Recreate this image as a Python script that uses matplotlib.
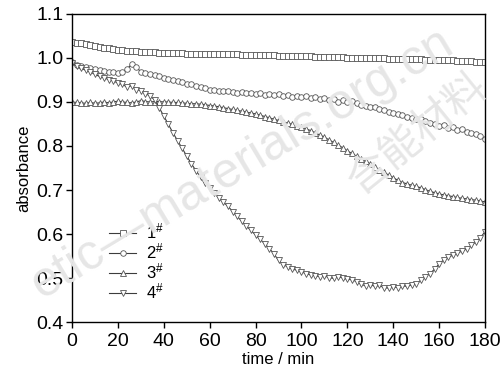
import numpy as np
import matplotlib
matplotlib.use('Agg')
import matplotlib.pyplot as plt

plt.rcParams['font.family'] = ['Liberation Sans', 'DejaVu Sans']
plt.rcParams['mathtext.fontset'] = 'custom'
plt.rcParams['mathtext.rm'] = 'Liberation Sans'
plt.rcParams['mathtext.it'] = 'Liberation Sans'

# time axis, one reading every 2 min
t = np.arange(0, 181, 2)

# sample 1# (squares)
s1 = [1.037, 1.035, 1.033, 1.031, 1.029, 1.027, 1.025, 1.023, 1.022, 1.020,
      1.019, 1.018, 1.017, 1.016, 1.015, 1.014, 1.014, 1.013, 1.013, 1.012,
      1.012, 1.012, 1.011, 1.011, 1.011, 1.010, 1.010, 1.010, 1.009, 1.009,
      1.009, 1.009, 1.008, 1.008, 1.008, 1.008, 1.008, 1.007, 1.007, 1.007,
      1.007, 1.006, 1.006, 1.006, 1.006, 1.005, 1.005, 1.005, 1.005, 1.004,
      1.004, 1.004, 1.004, 1.003, 1.003, 1.003, 1.003, 1.002, 1.002, 1.002,
      1.001, 1.001, 1.001, 1.000, 1.000, 1.000, 0.999, 0.999, 0.999, 0.998,
      0.998, 0.998, 0.998, 0.997, 0.997, 0.997, 0.997, 0.996, 0.996, 0.996,
      0.996, 0.995, 0.995, 0.995, 0.994, 0.994, 0.993, 0.993, 0.992, 0.991,
      0.990]

# sample 2# (circles)
s2 = [0.990, 0.985, 0.982, 0.980, 0.977, 0.975, 0.973, 0.970, 0.968, 0.969,
      0.967, 0.968, 0.975, 0.986, 0.980, 0.968, 0.966, 0.963, 0.962, 0.958,
      0.955, 0.952, 0.950, 0.947, 0.945, 0.942, 0.940, 0.937, 0.934, 0.931,
      0.928, 0.927, 0.925, 0.924, 0.924, 0.922, 0.921, 0.922, 0.920, 0.921,
      0.919, 0.920, 0.917, 0.919, 0.916, 0.918, 0.914, 0.916, 0.912, 0.914,
      0.911, 0.913, 0.908, 0.911, 0.906, 0.909, 0.904, 0.907, 0.901, 0.904,
      0.899, 0.902, 0.897, 0.894, 0.892, 0.888, 0.889, 0.884, 0.882, 0.878,
      0.876, 0.873, 0.870, 0.866, 0.864, 0.861, 0.862, 0.856, 0.853, 0.851,
      0.846, 0.848, 0.842, 0.843, 0.837, 0.838, 0.832, 0.830, 0.828, 0.822,
      0.815]

# sample 3# (up triangles)
s3 = [0.900, 0.899, 0.898, 0.897, 0.899, 0.897, 0.898, 0.900, 0.898, 0.900,
      0.902, 0.900, 0.899, 0.898, 0.900, 0.903, 0.901, 0.900, 0.901, 0.901,
      0.900, 0.900, 0.899, 0.899, 0.898, 0.897, 0.896, 0.896, 0.895, 0.894,
      0.892, 0.891, 0.889, 0.887, 0.885, 0.883, 0.881, 0.879, 0.877, 0.875,
      0.873, 0.870, 0.867, 0.864, 0.861, 0.858, 0.855, 0.852, 0.849, 0.846,
      0.843, 0.839, 0.835, 0.830, 0.825, 0.820, 0.814, 0.808, 0.802, 0.796,
      0.789, 0.783, 0.777, 0.771, 0.765, 0.759, 0.752, 0.746, 0.740, 0.734,
      0.728, 0.722, 0.717, 0.714, 0.711, 0.708, 0.705, 0.701, 0.697, 0.694,
      0.691, 0.689, 0.687, 0.685, 0.683, 0.681, 0.680, 0.678, 0.677, 0.675,
      0.673]

# sample 4# (down triangles)
s4 = [0.988, 0.982, 0.977, 0.972, 0.968, 0.963, 0.958, 0.955, 0.951, 0.948,
      0.943, 0.940, 0.934, 0.937, 0.928, 0.926, 0.919, 0.914, 0.905, 0.887,
      0.868, 0.849, 0.830, 0.812, 0.795, 0.777, 0.760, 0.744, 0.730, 0.717,
      0.705, 0.693, 0.682, 0.672, 0.663, 0.651, 0.640, 0.629, 0.618, 0.608,
      0.598, 0.588, 0.578, 0.567, 0.555, 0.540, 0.530, 0.526, 0.520, 0.518,
      0.514, 0.510, 0.507, 0.505, 0.503, 0.505, 0.501, 0.499, 0.503, 0.500,
      0.497, 0.496, 0.492, 0.486, 0.482, 0.485, 0.481, 0.483, 0.478, 0.477,
      0.480, 0.478, 0.482, 0.481, 0.484, 0.486, 0.495, 0.503, 0.510, 0.520,
      0.532, 0.541, 0.547, 0.552, 0.557, 0.561, 0.566, 0.574, 0.582, 0.592,
      0.605]

labels = ['1$^{\\#}$', '2$^{\\#}$', '3$^{\\#}$', '4$^{\\#}$']
markers = ['s', 'o', '^', 'v']
series = [s1, s2, s3, s4]

fig = plt.figure(figsize=(5.04, 3.73), dpi=100)
ax = fig.add_axes([0.1429, 0.1367, 0.8194, 0.8258])

# faint watermark of the source site
fig.text(0.48, 0.56, 'etic\u2014materials.org.cn', fontsize=36, color='#e6e6e6',
         rotation=31, ha='center', va='center', zorder=0)
fig.text(0.83, 0.64, '含能材料', fontsize=30, color='#e6e6e6', rotation=39,
         ha='center', va='center', family=['Noto Sans CJK SC'], zorder=0)
ax.patch.set_alpha(0)

for y, m, lab in zip(series, markers, labels):
    ax.plot(t, y, color='#3c3c3c', lw=0.8, marker=m, ms=4, mfc='white',
            mec='#555555', mew=0.6, label=lab)

ax.set_xlim(0, 180)
ax.set_ylim(0.4, 1.1)
ax.set_xticks(np.arange(0, 181, 20))
ax.set_yticks(np.arange(0.4, 1.11, 0.1))
ax.set_yticklabels(['%.1f' % v for v in np.arange(0.4, 1.11, 0.1)])
ax.tick_params(direction='out', length=4, width=1, labelsize=14)
ax.tick_params(axis='x', pad=4)
ax.tick_params(axis='y', pad=2)
for sp in ax.spines.values():
    sp.set_linewidth(1)
ax.set_xlabel('time / min', fontsize=12, labelpad=1)
ax.set_ylabel('absorbance', fontsize=12, labelpad=4)

leg = ax.legend(loc='lower left', bbox_to_anchor=(0.07, 0.04), frameon=False,
                fontsize=12, handlelength=1.6, handletextpad=0.6,
                labelspacing=0.0, borderpad=0)

fig.savefig('out.png', dpi=100)
